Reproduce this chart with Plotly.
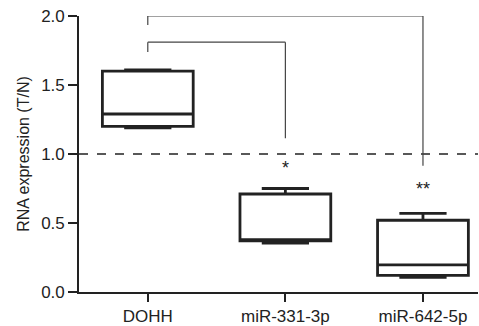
import plotly.graph_objects as go

categories = ["DOHH", "miR-331-3p", "miR-642-5p"]
q1 = [1.20, 0.37, 0.12]
median = [1.29, 0.38, 0.196]
q3 = [1.60, 0.71, 0.52]
lower = [1.19, 0.355, 0.106]
upper = [1.61, 0.75, 0.57]

# significance brackets: (from index, to index, height, left drop, right drop, label, label y)
brackets = [
    (0, 2, 2.0, 1.935, 0.915, "**", 0.745),
    (0, 1, 1.81, 1.74, 1.115, "*", 0.895),
]

ink = "#222222"
fig = go.Figure()
for i, c in enumerate(categories):
    fig.add_trace(go.Box(
        x=[i], q1=[q1[i]], median=[median[i]], q3=[q3[i]],
        lowerfence=[lower[i]], upperfence=[upper[i]],
        width=0.66, whiskerwidth=0.52,
        line=dict(color=ink, width=2.8), fillcolor="rgba(0,0,0,0)",
        boxpoints=False, showlegend=False, hoverinfo="skip",
    ))

shapes = [dict(type="line", xref="paper", yref="y", x0=0, x1=1, y0=1.0, y1=1.0,
               line=dict(color=ink, width=1.3, dash="dash"))]
annotations = []
for a, b, h, dl, dr, lab, ly in brackets:
    for (x0, y0, x1, y1) in [(a, dl, a, h), (a, h, b, h), (b, h, b, dr)]:
        shapes.append(dict(type="line", xref="x", yref="y", x0=x0, x1=x1, y0=y0, y1=y1,
                           line=dict(color="#444444", width=1.2)))
    annotations.append(dict(x=b, y=ly, text=lab, showarrow=False, xref="x", yref="y",
                            font=dict(size=18, color=ink), yanchor="middle"))

fig.update_layout(
    width=479, height=326,
    margin=dict(l=79, r=1, t=16, b=34),
    paper_bgcolor="white", plot_bgcolor="white",
    font=dict(family="Liberation Sans, Arial, sans-serif", size=17, color=ink),
    shapes=shapes, annotations=annotations,
    xaxis=dict(range=[-0.5, 2.4], tickmode="array", tickvals=[0, 1, 2], ticktext=categories,
               showline=True, linecolor=ink, linewidth=1.6, ticks="outside", ticklen=8,
               tickwidth=1.6, tickcolor=ink, showgrid=False, zeroline=False,
               automargin=False, tickfont=dict(size=17)),
    yaxis=dict(range=[0, 2.0], tickvals=[0, 0.5, 1.0, 1.5, 2.0],
               ticktext=["0.0", "0.5", "1.0", "1.5", "2.0"],
               showline=True, linecolor=ink, linewidth=1.6, ticks="outside", ticklen=9,
               tickwidth=1.6, tickcolor=ink, showgrid=False, zeroline=False,
               automargin=False, tickfont=dict(size=17),
               title=dict(text="RNA expression (T/N)", standoff=8, font=dict(size=16))),
)
fig.write_html("out.html", config={"displayModeBar": False},
               post_script="document.body.style.margin='0';document.body.style.overflow='hidden';")
